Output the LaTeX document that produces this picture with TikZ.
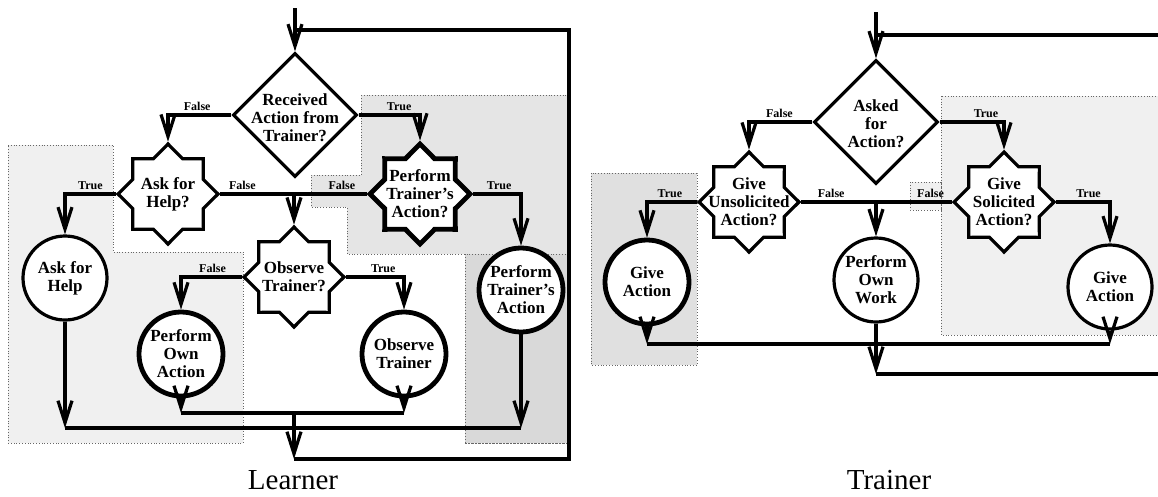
\documentclass[tikz,border=0pt]{standalone}
\usepackage{fontspec}
\setmainfont{Liberation Serif}
\usetikzlibrary{arrows.meta,shapes.geometric}

\tikzset{
  flow/.style={line width=3.2pt},
  arr/.style={flow,-{Straight Barb[length=22pt,width=14pt]}},
  heavy/.style={line width=4.8pt},
  dec/.style={diamond,draw,line width=3.2pt,minimum width=124pt,minimum height=124pt,inner sep=0pt},
  octa/.style={star,star points=8,star point ratio=1.31,draw,fill=white,line width=3.2pt,minimum size=100pt,inner sep=0pt},
  act/.style={circle,draw,fill=white,line width=3.2pt,minimum size=84pt,inner sep=0pt},
  txt/.style={align=center,inner sep=0pt,font=\fontsize{17}{18}\selectfont\bfseries},
  lab/.style={inner sep=0pt,above=2.5pt,font=\fontsize{12}{12}\selectfont\bfseries},
  captext/.style={inner sep=0pt,font=\fontsize{29}{29}\selectfont},
  shadelight/.style={fill=gray!12,draw=black!60,dotted,line width=0.8pt},
  shadedark/.style={fill=gray!30,draw=black!60,dotted,line width=0.8pt}
}

\begin{document}
\begin{tikzpicture}[x=1pt,y=-1pt]
\useasboundingbox (0,0) rectangle (1158,496);

% grey areas behind the two charts
\path[shadelight] (8,145) -- (113,145) -- (113,252) -- (243,252) -- (243,443) -- (8,443) -- cycle;
\path[shadelight,fill=gray!20] (361,95) -- (567,95) -- (567,443) -- (465,443) -- (465,254) -- (347,254) -- (347,207) -- (311,207) -- (311,175) -- (361,175) -- cycle;
\path[shadedark] (465,254) rectangle (567,443);
\path[shadelight,fill=gray!24] (591,173) rectangle (697,365);
\path[shadelight] (941,96) rectangle (1158,335);
\path[shadelight] (910,182) rectangle (941,210);

%% Learner
\coordinate (lin) at (295,8);
\coordinate (lback) at (569,30);
\node[dec] (recv) at (295,115) {};
\node[txt] (recv-t) at (295,118) {Received\\Action from\\Trainer?};
\node[octa] (askq) at (168,194) {};
\node[txt] (askq-t) at (askq) {Ask for\\Help?};
\node[octa,heavy] (perfq) at (420,194) {};
\node[txt] (perfq-t) at (perfq) {Perform\\Trainer's\\Action?};
\node[octa] (obsq) at (294,277) {};
\node[txt] (obsq-t) at (obsq) {Observe\\Trainer?};
\node[act] (askc) at (65,278) {};
\node[txt] (askc-t) at (askc) {Ask for\\Help};
\node[act,heavy] (ownc) at (181,354) {};
\node[txt] (ownc-t) at (ownc) {Perform\\Own\\Action};
\node[act,heavy] (obstc) at (404,354) {};
\node[txt] (obstc-t) at (obstc) {Observe\\Trainer};
\node[act,heavy] (perfc) at (521,290) {};
\node[txt] (perfc-t) at (perfc) {Perform\\Trainer's\\Action};
\coordinate (ljoin) at (obsq.north |- askq.east);
\coordinate (lm1) at (294,413);
\coordinate (lm2) at (294,428);
\coordinate (lout) at (294,459);

\draw[arr] (lin) -- (recv.north);
\draw[arr] (recv.west) -| (askq.north) node[lab,pos=0.27] {False};
\draw[arr] (recv.east) -| (perfq.north) node[lab,pos=0.33] {True};
\draw[arr] (askq.west) -| (askc.north) node[lab,pos=0.25] {True};
\draw[arr] (askq.east) -| (obsq.north) node[lab,pos=0.15] {False};
\draw[flow] (perfq.west) -- (ljoin) node[lab,pos=0.34] {False};
\draw[arr] (perfq.east) -| (perfc.north) node[lab,pos=0.27] {True};
\draw[arr] (obsq.west) -| (ownc.north) node[lab,pos=0.24] {False};
\draw[arr] (obsq.east) -| (obstc.north) node[lab,pos=0.32] {True};
\draw[arr] (ownc.south) -- (ownc.south |- lm1);
\draw[arr] (obstc.south) -- (obstc.south |- lm1);
\draw[flow] (ownc.south |- lm1) -- (obstc.south |- lm1);
\draw[arr] (askc.south) -- (askc.south |- lm2);
\draw[arr] (perfc.south) -- (perfc.south |- lm2);
\draw[flow] (askc.south |- lm2) -- (perfc.south |- lm2);
\draw[arr] (lm1) -- (lout);
\draw[flow] (lout) -| (lback) -- (lin |- lback);

%% Trainer
\coordinate (rin) at (876,12);
\coordinate (rback) at (1162,35);
\node[dec] (asked) at (876,122) {};
\node[txt] (asked-t) at (876,124) {Asked\\for\\Action?};
\node[octa] (givu) at (749,202) {};
\node[txt] (givu-t) at (givu) {Give\\Unsolicited\\Action?};
\node[octa] (givs) at (1004,202) {};
\node[txt] (givs-t) at (givs) {Give\\Solicited\\Action?};
\node[act,heavy] (gac1) at (647,282) {};
\node[txt] (gac1-t) at (gac1) {Give\\Action};
\node[act] (ownw) at (876,280) {};
\node[txt] (ownw-t) at (ownw) {Perform\\Own\\Work};
\node[act] (gac2) at (1110,287) {};
\node[txt] (gac2-t) at (gac2) {Give\\Action};
\coordinate (rjoin) at (ownw.north |- givu.east);
\coordinate (rm) at (876,344);
\coordinate (rout) at (876,374);

\draw[arr] (rin) -- (asked.north);
\draw[flow] (rin |- rback) -- (rback);
\draw[arr] (asked.west) -| (givu.north) node[lab,pos=0.26] {False};
\draw[arr] (asked.east) -| (givs.north) node[lab,pos=0.36] {True};
\draw[arr] (givu.west) -| (gac1.north) node[lab,pos=0.27] {True};
\draw[arr] (givu.east) -| (ownw.north) node[lab,pos=0.2] {False};
\draw[flow] (givs.west) -- (rjoin) node[lab,pos=0.28] {False};
\draw[arr] (givs.east) -| (gac2.north) node[lab,pos=0.3] {True};
\draw[arr] (gac1.south) -- (gac1.south |- rm);
\draw[arr] (gac2.south) -- (gac2.south |- rm);
\draw[flow] (gac1.south |- rm) -- (gac2.south |- rm);
\draw[arr] (ownw.south) -- (rout);
\draw[flow] (rout) -- (rout -| rback);

\node[captext] (learner) at (293,480) {Learner};
\node[captext] (trainer) at (889,480) {Trainer};
\end{tikzpicture}
\end{document}
